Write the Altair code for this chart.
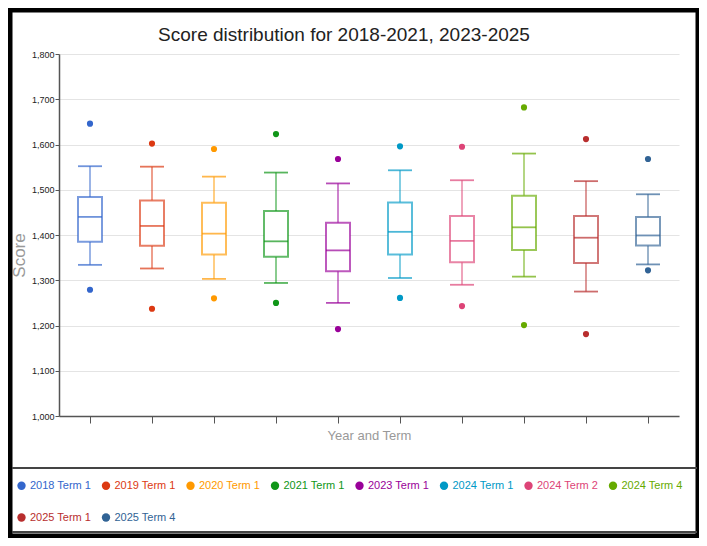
import altair as alt
import pandas as pd

categories = ["2018 Term 1", "2019 Term 1", "2020 Term 1", "2021 Term 1", "2023 Term 1",
              "2024 Term 1", "2024 Term 2", "2024 Term 4", "2025 Term 1", "2025 Term 4"]
colors = ["#3366cc", "#dc3912", "#ff9900", "#109618", "#990099",
          "#0099c6", "#dd4477", "#66aa00", "#b82e2e", "#316395"]
whisker_low = [1334, 1326, 1303, 1294, 1250, 1305, 1290, 1308, 1275, 1335]
q1 = [1385, 1376, 1357, 1352, 1320, 1357, 1340, 1367, 1338, 1377]
median = [1440, 1420, 1403, 1386, 1366, 1407, 1387, 1417, 1394, 1399]
q3 = [1484, 1476, 1471, 1453, 1427, 1472, 1442, 1487, 1442, 1440]
whisker_high = [1552, 1551, 1529, 1538, 1514, 1543, 1521, 1580, 1519, 1490]
outlier_high = [1646, 1602, 1590, 1623, 1568, 1596, 1595, 1682, 1612, 1568]
outlier_low = [1279, 1237, 1260, 1250, 1192, 1261, 1243, 1201, 1181, 1322]
y_ticks = [1000, 1100, 1200, 1300, 1400, 1500, 1600, 1700, 1800]

FONT = "Liberation Sans Narrow, Arial Narrow, Liberation Sans, Arial, sans-serif"

boxes = pd.DataFrame({
    "cat": categories, "lo": whisker_low, "q1": q1, "med": median,
    "q3": q3, "hi": whisker_high,
})
outliers = pd.DataFrame({
    "cat": categories * 2,
    "val": outlier_high + outlier_low,
})

xenc = alt.X("cat:N", sort=categories,
             scale=alt.Scale(domain=categories, paddingInner=0, paddingOuter=0),
             axis=alt.Axis(labels=False, title="Year and Term", tickSize=7,
                           tickColor="#555", domainColor="#555", domainWidth=1.5,
                           tickWidth=1, titleColor="#999", titleFont=FONT,
                           titleFontSize=13, titleFontWeight="normal", titlePadding=6,
                           grid=False))
# same mapping as the colour scale, listed in reverse so its (hidden) legend stays separate
stroke_scale = alt.Scale(domain=categories[::-1], range=colors[::-1])
s_enc = alt.Stroke("cat:N", scale=stroke_scale, legend=None)
f_enc = alt.Fill("cat:N", scale=stroke_scale, legend=None)

base = alt.Chart(boxes)

whisk_lo = base.mark_rule(strokeWidth=1.5, strokeOpacity=0.65).encode(
    x=xenc,
    y=alt.Y("lo:Q", scale=alt.Scale(domain=[1000, 1800]),
            axis=alt.Axis(values=y_ticks, format=",d", title="Score",
                          titleColor="#999", titleFont=FONT, titleFontSize=17,
                          titleFontWeight="normal", titleX=-31, titleY=201,
                          labelFont=FONT, labelFontSize=9, labelColor="#222",
                          labelPadding=1, tickSize=4, tickColor="#555",
                          domainColor="#555", domainWidth=1.5,
                          gridColor="#e4e4e4", gridWidth=1.2)),
    y2="q1:Q",
    stroke=s_enc,
)
whisk_hi = base.mark_rule(strokeWidth=1.5, strokeOpacity=0.65).encode(
    x=xenc, y="q3:Q", y2="hi:Q", stroke=s_enc,
)
cap_lo = base.mark_tick(size=24, thickness=1.8, opacity=0.7).encode(
    x=xenc, y="lo:Q", fill=f_enc,
)
cap_hi = base.mark_tick(size=24, thickness=1.8, opacity=0.7).encode(
    x=xenc, y="hi:Q", fill=f_enc,
)
box = base.mark_bar(size=24, fill="white", strokeWidth=2, strokeOpacity=0.65).encode(
    x=xenc, y="q1:Q", y2="q3:Q", stroke=s_enc,
)
med = base.mark_tick(size=24, thickness=1.8, opacity=0.7).encode(
    x=xenc, y="med:Q", fill=f_enc,
)

cat_list = "[" + ",".join("'" + c + "'" for c in categories) + "]"
col_list = "[" + ",".join("'" + c + "'" for c in colors) + "]"
label_color_expr = ("datum && datum.label ? " + col_list + "[indexof(" + cat_list +
                    ", datum.label)] : '#333'")

pts = alt.Chart(outliers).mark_circle(size=38, opacity=1).encode(
    x=xenc, y="val:Q",
    color=alt.Color("cat:N", sort=categories,
                    scale=alt.Scale(domain=categories, range=colors),
                    legend=alt.Legend(title=None, orient="none", legendX=-43, legendY=426,
                                      direction="horizontal",
                                      columns=8, symbolType="circle", symbolSize=70,
                                      symbolStrokeWidth=0,
                                      labelFont=FONT, labelFontSize=11,
                                      labelColor={"expr": label_color_expr},
                                      columnPadding=8.5, rowPadding=20, gridAlign="all",
                                      labelOffset=3, padding=0, symbolOpacity=1)),
)

one = alt.Data(values=[{"a": 1}])
frame = alt.Chart(one).mark_rect(fillOpacity=0, stroke="black", strokeWidth=5).encode(
    x=alt.value(-49), x2=alt.value(639), y=alt.value(-44), y2=alt.value(482),
)
div1 = alt.Chart(one).mark_rule(color="#444", strokeWidth=2).encode(
    x=alt.value(-47), x2=alt.value(638), y=alt.value(414),
)
div2 = alt.Chart(one).mark_rule(color="#444", strokeWidth=2).encode(
    x=alt.value(-47), x2=alt.value(638), y=alt.value(478),
)

chart = alt.layer(whisk_lo, whisk_hi, cap_lo, cap_hi, box, med, pts, frame, div1, div2).properties(
    width=620, height=362,
    autosize=alt.AutoSizeParams(type="none"),
    padding={"left": 51, "top": 46, "right": 20, "bottom": 122},
    title=alt.Title("Score distribution for 2018-2021, 2023-2025", font=FONT, fontSize=19,
                    fontWeight="normal", color="#222", anchor="middle", dx=-25,
                    baseline="alphabetic", offset=0, dy=52),
    background="white",
).configure_view(strokeWidth=0)

chart.save("out.html", embed_options={"renderer": "svg", "actions": False})
